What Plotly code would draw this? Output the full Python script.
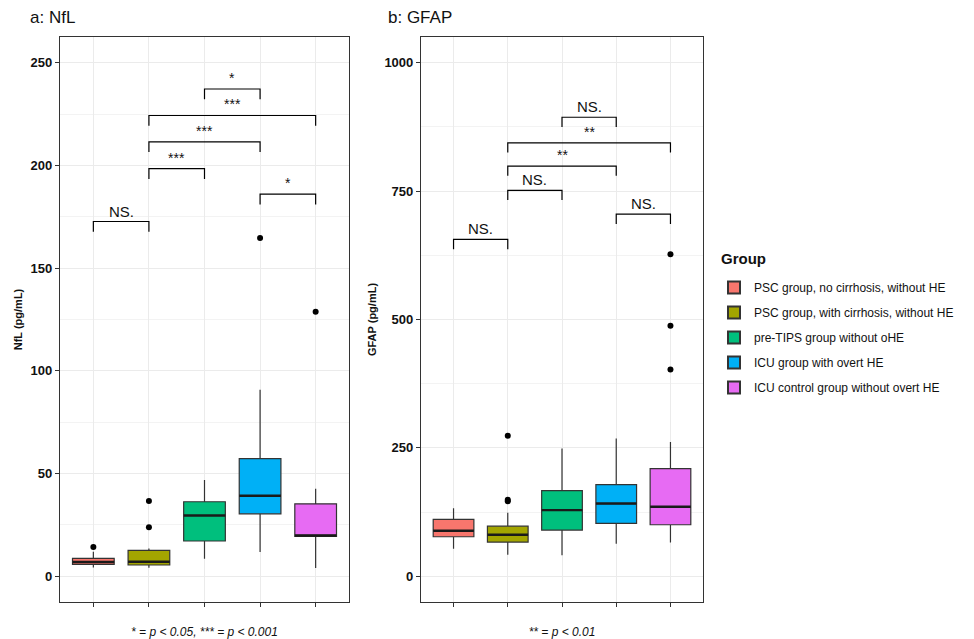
import plotly.graph_objects as go

groups = ["PSC group, no cirrhosis, without HE",
          "PSC group, with cirrhosis, without HE",
          "pre-TIPS group without oHE",
          "ICU group with overt HE",
          "ICU control group without overt HE"]
colors = ["#F8766D", "#A3A500", "#00BF7D", "#00B0F6", "#E76BF3"]
xpos = [1, 2, 3, 4, 5]

# NfL (pg/mL)
nfl_low = [4.3, 4.2, 8.6, 11.8, 4.0]
nfl_q1 = [5.8, 5.5, 17.2, 30.4, 19.4]
nfl_med = [7.0, 7.1, 29.6, 39.2, 19.9]
nfl_q3 = [8.7, 12.6, 36.3, 57.3, 35.3]
nfl_high = [12.0, 13.6, 46.9, 90.8, 42.6]
nfl_out_x = [1, 2, 2, 4, 5]
nfl_out_y = [14.3, 23.9, 36.7, 164.7, 128.8]

# GFAP (pg/mL)
gfap_low = [53.7, 42.0, 40.8, 63.5, 66.0]
gfap_q1 = [77.0, 66.6, 90.0, 103.0, 100.4]
gfap_med = [88.7, 81.0, 128.8, 141.7, 135.3]
gfap_q3 = [110.7, 97.7, 167.0, 178.6, 209.7]
gfap_high = [132.6, 124.0, 249.0, 268.5, 261.5]
gfap_out_x = [2, 2, 2, 5, 5, 5]
gfap_out_y = [273.8, 149.0, 146.0, 402.5, 488.0, 627.0]

# significance brackets
nfl_pairs = [(1, 2), (2, 3), (2, 4), (2, 5), (3, 4), (4, 5)]
nfl_bracket_y = [172.7, 198.4, 211.5, 224.3, 237.2, 186.0]
nfl_labels = ["NS.", "***", "***", "***", "*", "*"]

gfap_pairs = [(1, 2), (2, 3), (2, 4), (2, 5), (3, 4), (4, 5)]
gfap_bracket_y = [656, 751.5, 798.7, 844, 893.8, 705]
gfap_labels = ["NS.", "NS.", "**", "**", "NS.", "NS."]

fig = go.Figure()

BOXW = 0.75
LINEC = "#333333"
FONT = "Arial, Liberation Sans, sans-serif"

# page is rendered with the browser's default 8px body margin
OFF = 8
W, H = 974 - OFF, 639 - OFF


def px(x):
    return (x - OFF) / W


def py(y):
    return 1 - (y - OFF) / H


def add_panel(xa, ya, low, q1, med, q3, high, ox, oy, show_legend):
    for i in range(5):
        fig.add_trace(go.Box(
            x=[xpos[i]], q1=[q1[i]], median=[med[i]], q3=[q3[i]],
            lowerfence=[low[i]], upperfence=[high[i]],
            width=BOXW, fillcolor=colors[i],
            line=dict(color=LINEC, width=1.2),
            boxpoints=False, name=groups[i], legendgroup=groups[i],
            showlegend=show_legend, xaxis=xa, yaxis=ya, whiskerwidth=0,
            hoverinfo="skip"))
        fig.add_trace(go.Scatter(
            x=[xpos[i] - BOXW / 2, xpos[i] + BOXW / 2], y=[med[i], med[i]],
            mode="lines", line=dict(color="#1a1a1a", width=2.4),
            showlegend=False, xaxis=xa, yaxis=ya, hoverinfo="skip"))
    fig.add_trace(go.Scatter(
        x=ox, y=oy, mode="markers",
        marker=dict(color="black", size=6),
        showlegend=False, xaxis=xa, yaxis=ya, hoverinfo="skip"))


def add_brackets(xa, ya, pairs, ys, labels, tip):
    for (a, b), y, lab in zip(pairs, ys, labels):
        fig.add_trace(go.Scatter(
            x=[a, a, b, b], y=[y - tip, y, y, y - tip], mode="lines",
            line=dict(color="black", width=1.2), showlegend=False,
            xaxis=xa, yaxis=ya, hoverinfo="skip"))
        star = lab.startswith("*")
        fig.add_annotation(
            x=(a + b) / 2, y=y, xref=xa, yref=ya, text=lab,
            showarrow=False, yanchor="bottom",
            yshift=1 if star else 0,
            font=dict(size=14 if star else 15, color="#111111", family=FONT))


add_panel("x", "y", nfl_low, nfl_q1, nfl_med, nfl_q3, nfl_high,
          nfl_out_x, nfl_out_y, True)
add_panel("x2", "y2", gfap_low, gfap_q1, gfap_med, gfap_q3, gfap_high,
          gfap_out_x, gfap_out_y, False)
add_brackets("x", "y", nfl_pairs, nfl_bracket_y, nfl_labels, 5)
add_brackets("x2", "y2", gfap_pairs, gfap_bracket_y, gfap_labels, 19)

xcommon = dict(range=[0.4, 5.6], tickvals=xpos, ticktext=[""] * 5,
               showgrid=True, gridcolor="#EBEBEB", gridwidth=1,
               zeroline=False, showline=True, linecolor=LINEC, linewidth=1.2,
               mirror=True, ticks="outside", ticklen=4, tickcolor=LINEC,
               title=dict(font=dict(size=12, family=FONT, color="#111"),
                          standoff=20))
ycommon = dict(showgrid=True, gridcolor="#EBEBEB", gridwidth=1,
               zeroline=False, showline=True, linecolor=LINEC, linewidth=1.2,
               mirror=True, ticks="outside", ticklen=4, tickcolor=LINEC,
               tickfont=dict(size=13, family=FONT, color="#111"),
               title=dict(font=dict(size=11, family=FONT, color="#111"),
                          standoff=5))

fig.update_layout(
    width=W, height=H, margin=dict(l=0, r=0, t=0, b=0),
    paper_bgcolor="white", plot_bgcolor="white",
    font=dict(family=FONT, color="#111"),
    xaxis=dict(xcommon, domain=[px(60), px(349)],
               title=dict(xcommon["title"], text="<i>* = p &lt; 0.05, *** = p &lt; 0.001</i>")),
    xaxis2=dict(xcommon, domain=[px(421), px(703)], anchor="y2",
                title=dict(xcommon["title"], text="<i>** = p &lt; 0.01</i>")),
    yaxis=dict(ycommon, domain=[py(602), py(37)], range=[-12.5, 262.5],
               tickvals=[0, 50, 100, 150, 200, 250],
               ticktext=["<b>%d</b>" % v for v in [0, 50, 100, 150, 200, 250]],
               minor=dict(dtick=25, tick0=0, showgrid=True, gridcolor="#F3F3F3"),
               title=dict(ycommon["title"], text="<b>NfL (pg/mL)</b>")),
    yaxis2=dict(ycommon, domain=[py(602), py(37)], range=[-50, 1050],
                anchor="x2",
                tickvals=[0, 250, 500, 750, 1000],
                ticktext=["<b>%d</b>" % v for v in [0, 250, 500, 750, 1000]],
                minor=dict(dtick=125, tick0=0, showgrid=True, gridcolor="#F3F3F3"),
                title=dict(ycommon["title"], text="<b>GFAP (pg/mL)</b>")),
    legend=dict(x=px(714), y=py(273), xanchor="left", yanchor="top",
                font=dict(size=12, family=FONT, color="#111"),
                tracegroupgap=6, itemsizing="constant", bgcolor="rgba(0,0,0,0)"),
    showlegend=True,
)

fig.add_annotation(text="<b>Group</b>", xref="paper", yref="paper",
                   x=px(719), y=py(258), xanchor="left", yanchor="middle",
                   showarrow=False, font=dict(size=15, family=FONT, color="#111"))
fig.add_annotation(text="a: NfL", xref="paper", yref="paper",
                   x=px(28), y=py(18), xanchor="left", yanchor="middle",
                   showarrow=False, font=dict(size=17, family=FONT, color="#111"))
fig.add_annotation(text="b: GFAP", xref="paper", yref="paper",
                   x=px(386), y=py(18), xanchor="left", yanchor="middle",
                   showarrow=False, font=dict(size=17, family=FONT, color="#111"))

fig.write_html("out.html")
